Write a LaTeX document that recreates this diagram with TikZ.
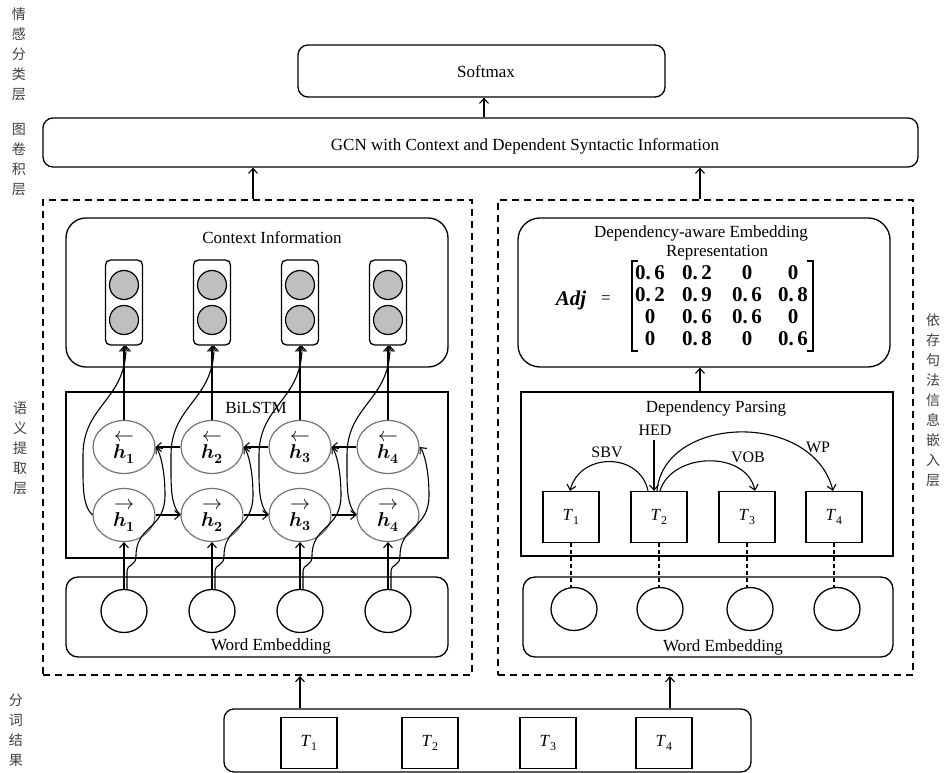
\documentclass[tikz,border=0pt]{standalone}
\usepackage{fontspec}
\usepackage{unicode-math}
\setmainfont{Liberation Serif}
\setmathfont{Latin Modern Math}
\newfontfamily\cjk{Noto Sans CJK SC}
\usetikzlibrary{arrows.meta,shapes.geometric}
\newcommand\dnum[1]{0.\kern3.5pt#1}
\newcommand\hstate[2]{$#1$\\$\symbfit{h}_{\symbf{#2}}$}
\begin{document}
\begin{tikzpicture}[x=1pt,y=-1pt,
  font=\fontsize{17}{20}\selectfont,
  box/.style={draw, rectangle, inner sep=0pt, line width=1.3pt},
  panel/.style={draw, rectangle, inner sep=0pt, line width=2.2pt, dash pattern=on 7pt off 5pt},
  arr/.style={-{Straight Barb[length=5pt,width=9pt,line width=1.1pt]}, line width=1.1pt},
  hcell/.style={ellipse, draw=black!55, line width=1.2pt, minimum width=62pt, minimum height=53pt, inner sep=0pt,
    align=center, font=\fontsize{20}{17}\selectfont},
  wcell/.style={ellipse, draw, line width=1.3pt, minimum width=46pt, minimum height=43pt, inner sep=0pt},
  dot/.style={circle, draw, fill=black!25, line width=1.2pt, minimum size=29pt, inner sep=0pt},
  tok/.style={box, minimum width=56pt, minimum height=51pt},
  cnlabel/.style={font=\cjk\fontsize{14}{20}\selectfont, text=black!75, align=center, inner sep=0pt},
  num/.style={font=\fontsize{21}{22}\selectfont\bfseries, inner sep=0pt},
  lbl/.style={inner sep=0pt},
  deplbl/.style={inner sep=0pt, font=\fontsize{16}{18}\selectfont}
]
\useasboundingbox (0,0) rectangle (946,773);

% layer captions
\node[cnlabel] (lay-cls) at (19,54) {情\\感\\分\\类\\层};
\node[cnlabel] (lay-gcn) at (19,160) {图\\卷\\积\\层};
\node[cnlabel] (lay-sem) at (20,448) {语\\义\\提\\取\\层};
\node[cnlabel] (lay-dep) at (933,400) {依\\存\\句\\法\\信\\息\\嵌\\入\\层};
\node[cnlabel] (lay-seg) at (16,730) {分\\词\\结\\果};

% classification and graph convolution
\node[box, rounded corners=10pt, minimum width=367pt, minimum height=52pt] (softmax) at (481.5,71) {};
\node[lbl] (softmax-text) at (486,72) {Softmax};
\node[box, rounded corners=10pt, minimum width=875pt, minimum height=49pt] (gcn) at (480.5,142.5) {};
\node[lbl] (gcn-text) at (525,146) {GCN with Context and Dependent Syntactic Information};
\draw[arr] (gcn.north -| 484,0) -- (softmax.south -| 484,0);

% the two feature panels
\node[panel, minimum width=429pt, minimum height=475pt] (leftpanel) at (257.5,437.5) {};
\node[panel, minimum width=415pt, minimum height=475pt] (rightpanel) at (705.5,437.5) {};
\draw[arr] (leftpanel.north -| 253,0) -- (gcn.south -| 253,0);
\draw[arr] (rightpanel.north -| 700,0) -- (gcn.south -| 700,0);

% semantic branch
\node[box, rounded corners=20pt, minimum width=382pt, minimum height=149pt] (ctx) at (257,292.5) {};
\node[lbl] (ctx-title) at (272,238) {Context Information};
\node[box, minimum width=382pt, minimum height=166pt] (bilstm) at (257,475) {};
\node[lbl] (bilstm-title) at (256,408) {BiLSTM};
\node[box, rounded corners=12pt, minimum width=382pt, minimum height=80pt] (wemb) at (257,617) {};
\node[lbl] (wemb-title) at (271,646) {Word Embedding};

\foreach \i/\x in {1/124,2/212,3/300,4/388}{
  \node[box, rounded corners=5pt, minimum width=37pt, minimum height=85pt] (c\i) at (\x,302.5) {};
  \node[dot] (c\i-a) at (\x,285) {};
  \node[dot] (c\i-b) at (\x,320) {};
  \node[hcell] (b\i) at (\x,447) {\hstate{\leftarrow}{\i}};
  \node[hcell] (f\i) at (\x,515) {\hstate{\rightarrow}{\i}};
  \node[wcell] (w\i) at (\x,611) {};
}
\foreach \i in {1,...,4}{
  \draw[arr] (b\i.north) -- (c\i.south);
  \draw[arr] (w\i.north) -- (f\i.south);
}
\foreach \i/\j in {1/2,2/3,3/4}{
  \draw[arr] (f\i.east) -- (f\j.west);
  \draw[arr] (b\j.west) -- (b\i.east);
}
\foreach \i/\x in {1/124,2/212,3/300,4/388}{
  % word vector into the backward cell
  \draw[arr] ([xshift=3pt]w\i.north) -- (\x+3,572)
    .. controls (\x+3,563) and (\x+12,567) .. (\x+12,556)
    .. controls (\x+12,525) and (\x+41,530) .. (\x+41,495)
    .. controls (\x+41,470) and (\x+36,452) .. (b\i.east);
  % forward state up to the context vector
  \draw[arr] (f\i.west)
    .. controls (\x-42,505) and (\x-41,485) .. (\x-41,455)
    .. controls (\x-41,405) and (\x+2,400) .. ([xshift=2pt]c\i.south);
}

% syntactic branch
\node[box, rounded corners=22pt, minimum width=372pt, minimum height=149pt] (dae) at (704,292.5) {};
\node[lbl] (dae-title1) at (701,233) {Dependency-aware Embedding};
\node[lbl] (dae-title2) at (717,253) {Representation};
\node[lbl, font=\fontsize{21}{22}\selectfont\bfseries\itshape] (adj) at (571,300) {Adj};
\node[lbl] (adj-eq) at (606,300) {=};
\foreach \c/\x/\v in {1/650/\dnum6, 2/697/\dnum2, 3/747/0, 4/793/0}
  \node[num] (m1\c) at (\x,273) {\v};
\foreach \c/\x/\v in {1/650/\dnum2, 2/697/\dnum9, 3/747/\dnum6, 4/793/\dnum8}
  \node[num] (m2\c) at (\x,295) {\v};
\foreach \c/\x/\v in {1/650/0, 2/697/\dnum6, 3/747/\dnum6, 4/793/0}
  \node[num] (m3\c) at (\x,317) {\v};
\foreach \c/\x/\v in {1/650/0, 2/697/\dnum8, 3/747/0, 4/793/\dnum6}
  \node[num] (m4\c) at (\x,339) {\v};
\draw[line width=1.5pt] (638,261) -- (632,261) -- (632,351) -- (638,351);
\draw[line width=1.5pt] (807,261) -- (813,261) -- (813,351) -- (807,351);

\node[box, minimum width=372pt, minimum height=164pt] (dp) at (707,474) {};
\node[lbl] (dp-title) at (716,408) {Dependency Parsing};
\draw[arr] (dp.north -| 700,0) -- (dae.south -| 700,0);
\foreach \i/\x in {1/571,2/659,3/747,4/834}
  \node[tok] (t\i) at (\x,517) {\textit{T}\textsubscript{\i}};
\coordinate (hedtop) at (654,440);
\draw[arr] (hedtop) -- ([xshift=-5pt]t2.north);
\draw[arr] ([xshift=-11pt]t2.north) .. controls (640,452) and (580,452) .. ([xshift=-1pt]t1.north);
\draw[arr] ([xshift=1pt]t2.north) .. controls (672,452) and (746,450) .. ([xshift=8pt]t3.north);
\draw[arr] ([xshift=-2pt]t2.north) .. controls (664,415) and (812,410) .. ([xshift=-1pt]t4.north);
\node[deplbl] (sbv) at (607,452) {SBV};
\node[deplbl] (hed) at (655,430) {HED};
\node[deplbl] (vob) at (748,457) {VOB};
\node[deplbl] (wp) at (818,447) {WP};

\node[box, rounded corners=12pt, minimum width=370pt, minimum height=80pt] (wemb2) at (708,617) {};
\node[lbl] (wemb2-title) at (723,647) {Word Embedding};
\foreach \i/\x in {1/574,2/660,3/750,4/837}
  \node[wcell] (r\i) at (\x,609) {};
\foreach \i in {1,...,4}
  \draw[line width=1.1pt, dash pattern=on 4pt off 3pt] (t\i.south) -- (t\i.south |- r\i.north);

% segmentation result
\node[box, rounded corners=10pt, minimum width=527pt, minimum height=63pt] (seg) at (487.5,740.5) {};
\foreach \i/\x in {1/309,2/430,3/548,4/664}
  \node[tok] (s\i) at (\x,743) {\textit{T}\textsubscript{\i}};
\draw[arr] (seg.north -| 300,0) -- (leftpanel.south -| 300,0);
\draw[arr] (seg.north -| 670,0) -- (rightpanel.south -| 670,0);
\end{tikzpicture}
\end{document}
